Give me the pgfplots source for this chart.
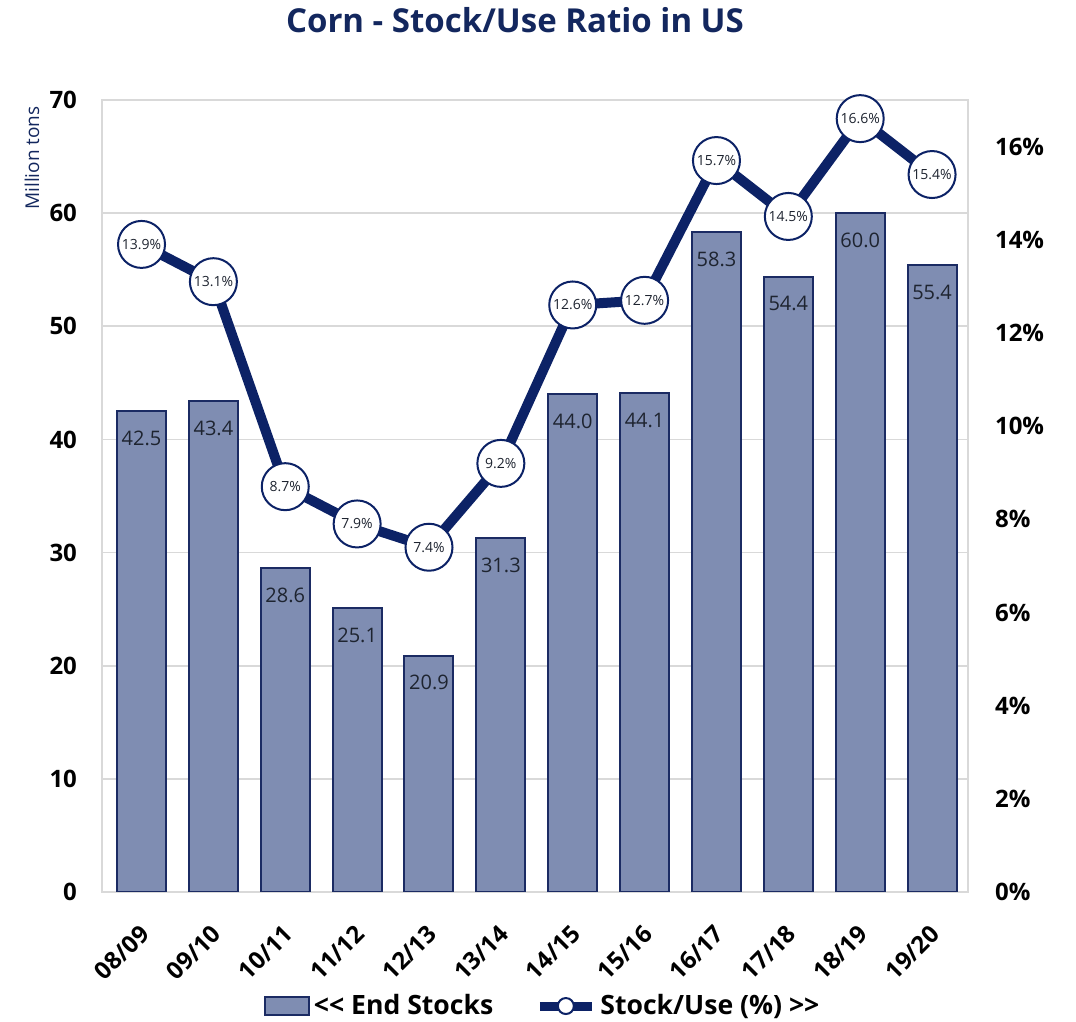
\documentclass[border=0pt]{standalone}
\usepackage{pgfplots}
\pgfplotsset{compat=1.18}
\usepackage{fontspec}
\setmainfont{Open Sans}
\definecolor{navy}{HTML}{0C2266}
\definecolor{titlec}{HTML}{13275E}
\definecolor{barfill}{HTML}{7F8DB2}
\definecolor{bardraw}{HTML}{1B2B63}
\definecolor{gridc}{HTML}{D9D9D9}
\definecolor{labc}{HTML}{1E2430}
\begin{document}
\begin{tikzpicture}
\useasboundingbox (-51pt,-65pt) rectangle (487pt,446pt);
\begin{axis}[
  at={(0,0)}, anchor=south west, scale only axis,
  width=433pt, height=396pt,
  xmin=-0.55, xmax=11.5, ymin=0, ymax=70,
  xtick={0,...,11},
  xticklabels={08/09,09/10,10/11,11/12,12/13,13/14,14/15,15/16,16/17,17/18,18/19,19/20},
  x tick label style={rotate=45, anchor=north east, font=\bfseries\fontsize{12}{12}\selectfont, inner sep=1pt, xshift=-11pt, yshift=-8.8pt},
  ytick={0,10,...,70},
  y tick label style={font=\bfseries\fontsize{12}{12}\selectfont, xshift=-9pt},
  /pgf/number format/assume math mode=true,
  axis line style={gridc, line width=0.8pt},
  major tick length=0pt,
  ymajorgrids, grid style={gridc, line width=0.8pt},
  ybar, bar width=24.5pt,
  nodes near coords align={below=6pt},
]
\addplot[fill=barfill, draw=bardraw, line width=1pt,
  nodes near coords={\pgfmathprintnumber[fixed,precision=1,fixed zerofill]{\pgfplotspointmeta}},
  every node near coord/.append style={font=\fontsize{10}{10}\selectfont, text=labc}]
  coordinates {(0,42.5) (1,43.4) (2,28.6) (3,25.1) (4,20.9) (5,31.3) (6,44.0) (7,44.1) (8,58.3) (9,54.4) (10,60.0) (11,55.4)};
\end{axis}
\begin{axis}[
  at={(0,0)}, anchor=south west, scale only axis,
  width=433pt, height=396pt,
  xmin=-0.55, xmax=11.5, ymin=0, ymax=17,
  axis x line=none, axis y line*=right,
  ytick={0,2,...,16},
  yticklabel={\pgfmathprintnumber{\tick}\%},
  y tick label style={font=\bfseries\fontsize{12}{12}\selectfont, xshift=10pt},
  /pgf/number format/assume math mode=true,
  axis line style={gridc, line width=0.8pt},
  major tick length=0pt,
  legend columns=2,
  legend style={draw=none, fill=none, at={(0.51,-0.144)}, anchor=center,
    font=\bfseries\fontsize{13.3}{13.3}\selectfont,
    /tikz/every even column/.append style={column sep=19pt}},
  legend cell align=left,
]
\addlegendimage{legend image code/.code={\draw[fill=barfill, draw=bardraw, line width=1pt] (0pt,-4.5pt) rectangle (22pt,4.5pt);}}
\addlegendentry{<{}< End Stocks}
\addplot[navy, line width=5pt, mark=none,
  nodes near coords={\pgfmathprintnumber[fixed,precision=1,fixed zerofill]{\pgfplotspointmeta}\%},
  every node near coord/.append style={circle, draw=navy, line width=1pt, fill=white, minimum size=23.5pt, inner sep=0pt, anchor=center, font=\fontsize{7}{7}\selectfont, text=labc},
  legend image code/.code={\draw[navy, line width=4.5pt] (0pt,0pt) -- (26pt,0pt); \draw[navy, line width=1pt, fill=white] (13pt,0pt) circle (4pt);}]
  coordinates {(0,13.9) (1,13.1) (2,8.7) (3,7.9) (4,7.4) (5,9.2) (6,12.6) (7,12.7) (8,15.7) (9,14.5) (10,16.6) (11,15.4)};
\addlegendentry{Stock/Use (\%) >{}>}
\end{axis}
\node[font=\bfseries\fontsize{16.5}{16.5}\selectfont, text=titlec] at (206.5pt,436pt) {Corn - Stock/Use Ratio in US};
\node[rotate=90, font=\fontsize{9.5}{9.5}\selectfont, text=titlec] at (-35pt,367pt) {Million tons};
\end{tikzpicture}
\end{document}
